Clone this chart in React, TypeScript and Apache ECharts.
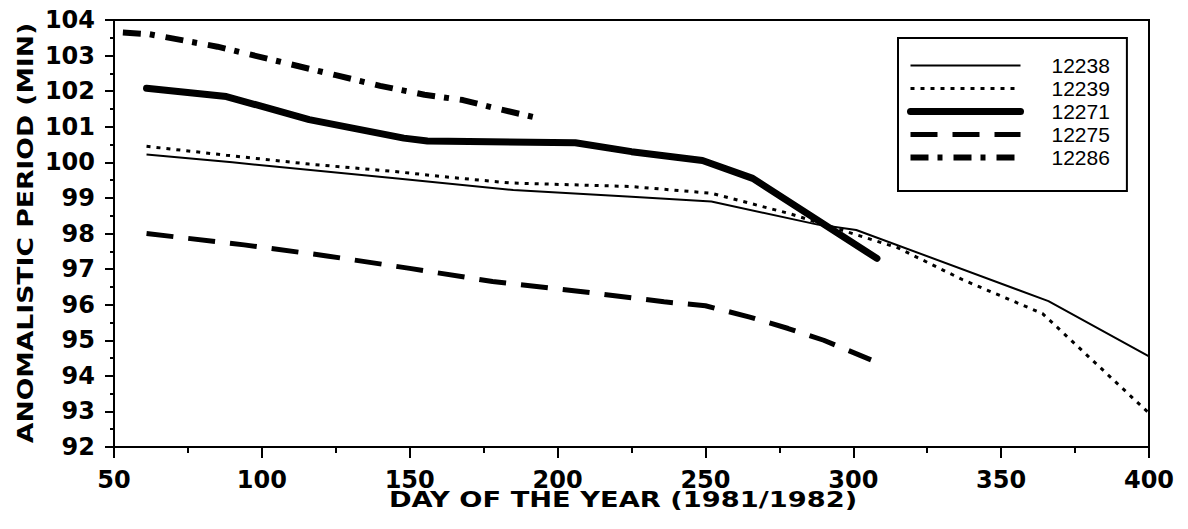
import React, { useEffect, useRef } from "react";
import * as echarts from "echarts";

const seriesNames = ["12238", "12239", "12271", "12275", "12286"];

const days12238 = [61, 90, 145, 185, 225, 252, 288, 301, 366, 400];
const period12238 = [100.22, 100.0, 99.55, 99.22, 99.03, 98.9, 98.25, 98.1, 96.1, 94.55];

const days12239 = [61, 88, 116, 144, 161, 184, 225, 252, 278, 294, 315, 337, 364, 400];
const period12239 = [100.45, 100.2, 99.95, 99.75, 99.6, 99.42, 99.32, 99.13, 98.57, 98.15, 97.6, 96.7, 95.75, 92.95];

const days12271 = [61, 88, 116, 148, 156, 206, 225, 249, 266, 308];
const period12271 = [102.08, 101.85, 101.2, 100.68, 100.6, 100.55, 100.3, 100.05, 99.55, 97.3];

const days12275 = [61, 94, 122, 150, 178, 207, 236, 250, 265, 278, 290, 306];
const period12275 = [98.0, 97.68, 97.37, 97.02, 96.65, 96.38, 96.08, 95.97, 95.65, 95.33, 95.0, 94.45];

const days12286 = [53, 62, 85, 95, 110, 125, 140, 155, 168, 180, 193];
const period12286 = [103.65, 103.6, 103.25, 103.05, 102.75, 102.45, 102.15, 101.9, 101.75, 101.5, 101.25];

const xTicks = { min: 50, max: 400, interval: 50 };
const yTicks = { min: 92, max: 104, interval: 1 };

const xTitle = "DAY OF THE YEAR (1981/1982)";
const yTitle = "ANOMALISTIC PERIOD (MIN)";

const zip = (xs: number[], ys: number[]) => xs.map((x, i) => [x, ys[i]]);

export default function App() {
  const ref = useRef<HTMLDivElement>(null);
  useEffect(() => {
    document.body.style.margin = "0";
    if (!ref.current) return;
    const chart = echarts.init(ref.current, null, { renderer: "svg" });
    const tickFont = { fontFamily: "DejaVu Sans", fontWeight: "bold" as const, fontSize: 24, color: "#000" };
    const mk = (name: string, data: number[][], lineStyle: any) => ({
      name,
      type: "line",
      data,
      symbol: "none",
      showSymbol: false,
      smooth: false,
      lineStyle: { color: "#000", ...lineStyle },
      itemStyle: { color: "#000" },
    });
    chart.setOption({
      animation: false,
      backgroundColor: "#fff",
      grid: {
        left: 114,
        right: 39,
        top: 20,
        bottom: 82,
        show: true,
        borderColor: "#000",
        borderWidth: 2,
        backgroundColor: "transparent",
      },
      xAxis: {
        type: "value",
        min: xTicks.min,
        max: xTicks.max,
        interval: xTicks.interval,
        axisLine: { show: true, onZero: false, lineStyle: { color: "#000", width: 2 } },
        axisTick: { show: true, inside: false, length: 11, lineStyle: { color: "#000", width: 2 } },
        minorTick: { show: true, splitNumber: 2, length: 6, lineStyle: { color: "#000", width: 2 } },
        splitLine: { show: false },
        axisLabel: { ...tickFont, margin: 21, showMinLabel: true, showMaxLabel: true },
      },
      yAxis: {
        type: "value",
        min: yTicks.min,
        max: yTicks.max,
        interval: yTicks.interval,
        axisLine: { show: true, onZero: false, lineStyle: { color: "#000", width: 2 } },
        axisTick: { show: true, inside: false, length: 9, lineStyle: { color: "#000", width: 2 } },
        minorTick: { show: true, splitNumber: 2, length: 4, lineStyle: { color: "#000", width: 2 } },
        splitLine: { show: false },
        axisLabel: { ...tickFont, margin: 19, showMinLabel: true, showMaxLabel: true },
      },
      legend: {
        show: true,
        orient: "vertical",
        left: 898,
        top: 38,
        padding: [17, 17, 23, 9],
        itemWidth: 110,
        itemHeight: 16,
        itemGap: 2,
        borderColor: "#000",
        borderWidth: 2,
        borderRadius: 0,
        backgroundColor: "#fff",
        itemStyle: { color: "rgba(0,0,0,0)", borderColor: "rgba(0,0,0,0)", borderWidth: 0 },
        lineStyle: { width: "inherit", type: "inherit", cap: "inherit", color: "#000" },
        textStyle: {
          fontFamily: "Liberation Sans",
          fontSize: 21,
          color: "#000",
          lineHeight: 21,
          padding: [0, 0, 0, 26],
        },
        data: seriesNames,
      },
      series: [
        mk(seriesNames[0], zip(days12238, period12238), { width: 2, type: "solid" }),
        mk(seriesNames[1], zip(days12239, period12239), { width: 3, type: [4, 6] }),
        mk(seriesNames[2], zip(days12271, period12271), { width: 7, type: "solid", cap: "round", join: "round" }),
        mk(seriesNames[3], zip(days12275, period12275), { width: 5, type: [27, 15] }),
        mk(seriesNames[4], zip(days12286, period12286), { width: 6, type: [18, 9, 5, 11] }),
      ],
      graphic: [
        {
          type: "text",
          x: 623,
          y: 500,
          scaleX: 1.3,
          style: {
            text: xTitle,
            font: "bold 21px 'DejaVu Sans'",
            fill: "#000",
            textAlign: "center",
            textVerticalAlign: "middle",
          },
        },
        {
          type: "text",
          x: 25,
          y: 233,
          rotation: Math.PI / 2,
          scaleX: 1.21,
          style: {
            text: yTitle,
            font: "bold 22px 'DejaVu Sans'",
            fill: "#000",
            textAlign: "center",
            textVerticalAlign: "middle",
          },
        },
      ],
    });
    return () => chart.dispose();
  }, []);
  return <div ref={ref} style={{ width: 1188, height: 529 }} />;
}
